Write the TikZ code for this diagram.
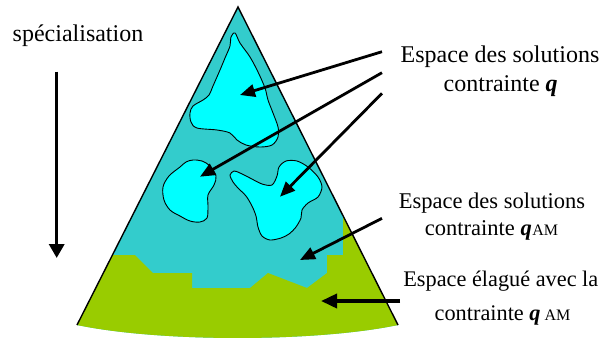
\documentclass[tikz,border=0pt]{standalone}
\usepackage{fontspec}
\setmainfont{Liberation Serif}
\usetikzlibrary{arrows.meta}
\definecolor{teal1}{HTML}{33CCCC}
\definecolor{cyan1}{HTML}{00FFFF}
\definecolor{green1}{HTML}{99CC00}
\newcommand{\qam}[2]{\textbf{\textit{q}}\hspace{#2}{\fontsize{#1}{#1}\selectfont AM}}
\begin{document}
\begin{tikzpicture}[x=1pt,y=-1pt,
  blob/.style={fill=cyan1,draw=black,line width=0.9pt},
  arr/.style={line width=2.8pt,-{Triangle[length=15pt,width=12.5pt]}},
  lbl/.style={anchor=base,inner sep=0pt},
  big/.style={font=\fontsize{24}{24}\selectfont},
  mid/.style={font=\fontsize{22.5}{22.5}\selectfont},
]
\useasboundingbox (0,0) rectangle (604,338);
\coordinate (apex) at (238,7);
\coordinate (bl) at (77,325);
\coordinate (br) at (398,325);
% cone body
\fill[teal1] (apex) -- (br) .. controls (315,342.3) and (160,342.3) .. (bl) -- cycle;
\begin{scope}
\clip (apex) -- (br) .. controls (315,342.3) and (160,342.3) .. (bl) -- cycle;
\fill[green1] (40,255) -- (135,255) -- (153,273) -- (192,273) -- (192,288) -- (250,288)
  -- (268,273) -- (307,288) -- (327,273) -- (327,255) -- (343,255) -- (343,200)
  -- (430,200) -- (430,350) -- (40,350) -- cycle;
\end{scope}
\draw[line width=1.4pt] (bl) -- (apex) -- (br);
% solution blobs
\draw[blob] plot[smooth cycle, tension=0.55] coordinates {(235,33) (240,43) (250,57) (258,72) (265,88) (268,100) (273,113) (278,127) (278,137) (272,145) (260,147) (246,145) (237,140) (230,133) (217,130) (197,128) (191,122) (190,113) (193,106) (203,100) (209,95) (213,86) (220,70) (225,58) (230,46) (231,37)};
\draw[blob] plot[smooth cycle, tension=0.55] coordinates {(193,160) (202,161) (210,166) (216,176) (214,185) (208,195) (208,207) (207,218) (200,222) (190,221) (180,216) (170,210) (164,200) (163,187) (169,176) (180,167) (186,162)};
\draw[blob] plot[smooth cycle, tension=0.5] coordinates {(230,175) (234,171) (240,173) (250,178) (262,184) (272,185) (277,176) (279,167) (286,161) (297,161) (308,167) (318,177) (322,187) (318,197) (308,203) (302,210) (301,218) (296,227) (289,234) (281,238) (270,240) (262,236) (258,227) (256,216) (252,206) (246,196) (238,188) (233,182)};
% labels
\node[lbl,big] (spec) at (78,41.7) {spécialisation};
\node[lbl,big] (l1a) at (500,62.7) {Espace des solutions};
\node[lbl,big] (l1b) at (500.7,91.5) {contrainte \textbf{\textit{q}}};
\node[lbl,mid] (l2a) at (492,208.3) {Espace des solutions};
\node[lbl,mid] (l2b) at (491.5,235) {contrainte \qam{16}{0.5pt}};
\node[lbl,font=\fontsize{22.3}{22.3}\selectfont] (l3a) at (500.8,286.7) {Espace élagué avec la};
\node[lbl,font=\fontsize{22.3}{22.3}\selectfont] (l3b) at (502.5,320) {contrainte \qam{16}{4pt}};
% arrow endpoints
\coordinate (s1) at (382,51.7);  \coordinate (e1) at (240,95);
\coordinate (s2) at (382,72.7);  \coordinate (e2) at (200,176.7);
\coordinate (s3) at (382,93.3);  \coordinate (e3) at (280,196.7);
\coordinate (s4) at (382,218.3); \coordinate (e4) at (300,260);
\coordinate (s5) at (400,301);   \coordinate (e5) at (321,301);
\coordinate (sv) at (56.7,71.7); \coordinate (ev) at (56.7,258);
\draw[arr] (s1) -- (e1);
\draw[arr] (s2) -- (e2);
\draw[arr] (s3) -- (e3);
\draw[arr] (s4) -- (e4);
\draw[arr,line width=3.6pt,-{Triangle[length=16pt,width=14pt]}] (s5) -- (e5);
\draw[arr,line width=3.4pt,-{Triangle[length=14pt,width=15pt]}] (sv) -- (ev);
\end{tikzpicture}
\end{document}
